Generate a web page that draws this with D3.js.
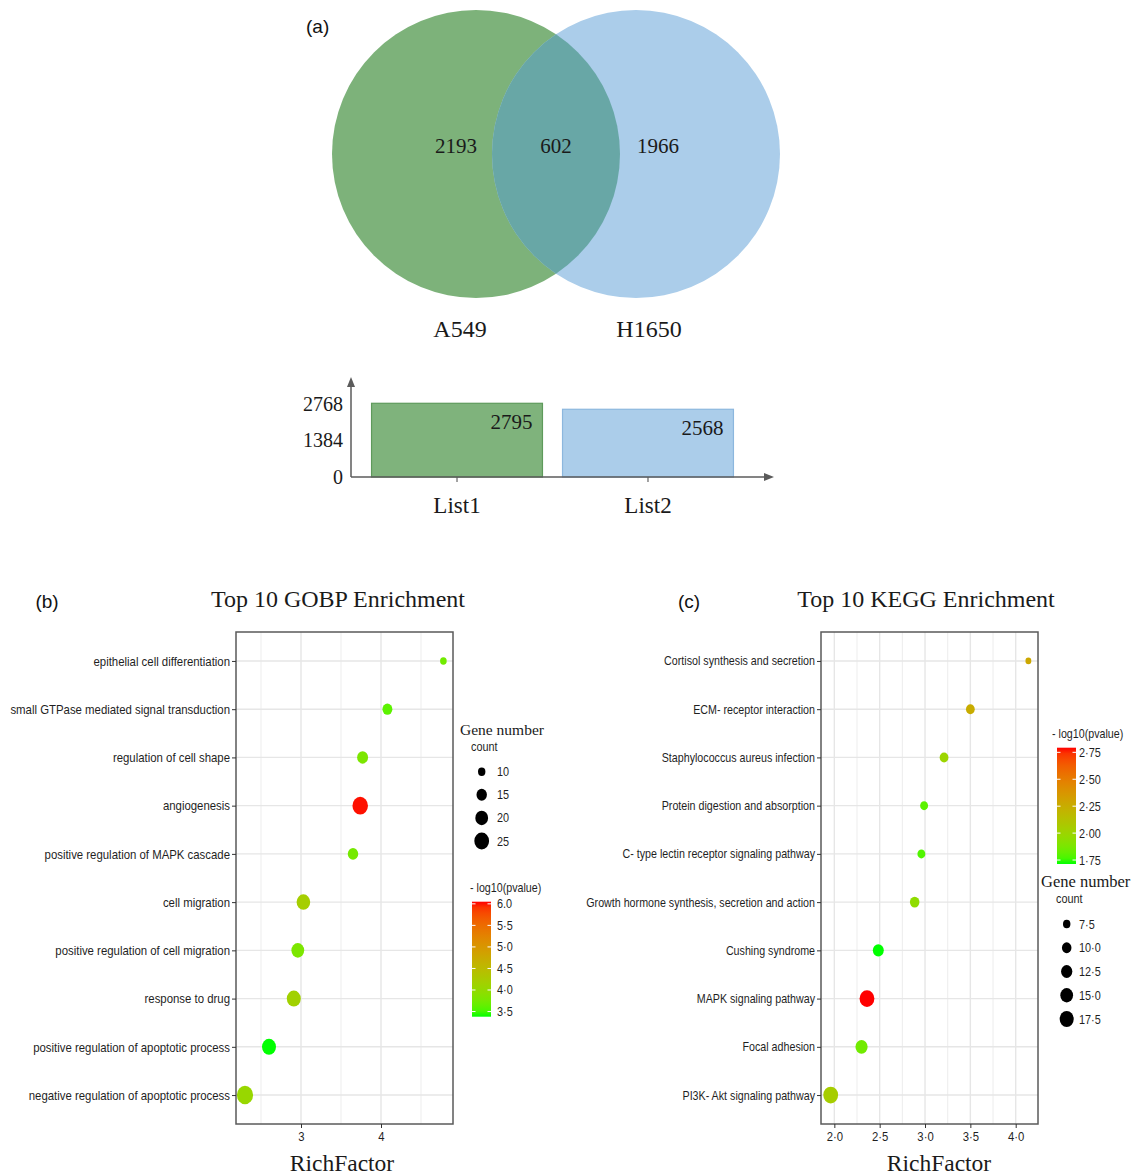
<!DOCTYPE html>
<html>
<head>
<meta charset="utf-8">
<script src="https://cdn.jsdelivr.net/npm/d3@7"></script>
<style>
  html, body { margin: 0; padding: 0; background: #fff; }
  svg { display: block; }
</style>
</head>
<body>
<svg id="fig" width="1131" height="1175"></svg>
<script>
// ---------------- data ----------------
// (a) overlap of the two cell-line gene lists
const vennSets = ["A549", "H1650"];
const vennRegionCounts = [2193, 602, 1966];   // A549 only, shared, H1650 only
const listNames = ["List1", "List2"];
const listTotals = [2795, 2568];
const listTicks = [0, 1384, 2768];

// (b) GO biological process enrichment (top to bottom)
const goTerms = [
  "epithelial cell differentiation",
  "small GTPase mediated signal transduction",
  "regulation of cell shape",
  "angiogenesis",
  "positive regulation of MAPK cascade",
  "cell migration",
  "positive regulation of cell migration",
  "response to drug",
  "positive regulation of apoptotic process",
  "negative regulation of apoptotic process"
];
const goRichFactor = [4.78, 4.08, 3.77, 3.74, 3.65, 3.03, 2.96, 2.91, 2.60, 2.30];
const goCount      = [9, 14, 16, 27, 15, 22, 20, 23, 23, 29];
const goLogP       = [3.72, 3.60, 3.80, 6.03, 3.75, 4.20, 3.80, 4.15, 3.38, 4.05];
const goXTicks = [3, 4];
const goXTickLabels = ["3", "4"];
const goXMinor = [2.5, 3.5, 4.5];
const goSizeBreaks = [10, 15, 20, 25];
const goSizeLabels = ["10", "15", "20", "25"];
const goColorBreaks = [3.5, 4.0, 4.5, 5.0, 5.5, 6.0];
const goColorLabels = ["3·5", "4·0", "4·5", "5·0", "5·5", "6.0"];

// (c) KEGG pathway enrichment (top to bottom)
const keggTerms = [
  "Cortisol synthesis and secretion",
  "ECM- receptor interaction",
  "Staphylococcus aureus infection",
  "Protein digestion and absorption",
  "C- type lectin receptor signaling pathway",
  "Growth hormone synthesis, secretion and action",
  "Cushing syndrome",
  "MAPK signaling pathway",
  "Focal adhesion",
  "PI3K- Akt signaling pathway"
];
const keggRichFactor = [4.14, 3.50, 3.21, 2.99, 2.96, 2.886, 2.485, 2.36, 2.30, 1.96];
const keggCount      = [6, 9, 9, 8, 8, 10, 12, 19, 14, 19];
const keggLogP       = [2.28, 2.25, 2.00, 1.80, 1.78, 1.95, 1.713, 2.793, 1.85, 2.05];
const keggXTicks = [2.0, 2.5, 3.0, 3.5, 4.0];
const keggXTickLabels = ["2·0", "2·5", "3·0", "3·5", "4·0"];
const keggXMinor = [2.25, 2.75, 3.25, 3.75];
const keggSizeBreaks = [7.5, 10, 12.5, 15, 17.5];
const keggSizeLabels = ["7·5", "10·0", "12·5", "15·0", "17·5"];
const keggColorBreaks = [1.75, 2.00, 2.25, 2.50, 2.75];
const keggColorLabels = ["1·75", "2·00", "2·25", "2·50", "2·75"];

// ---------------- drawing ----------------
const svg = d3.select("#fig");
const defs = svg.append("defs");
const SERIF = '"Liberation Serif","Times New Roman",serif';
const SANS = '"Liberation Sans",Arial,sans-serif';
const SQ = 0.87;        // horizontal squeeze of the enrichment-panel lettering
const ASPECT = 0.88;    // dots in the enrichment panels are slightly taller than wide
const INK = "#1f1f1f";

function squeezedText(g, x, y, str, size, anchor, fill) {
  return g.append("text")
    .attr("transform", `translate(${x},${y}) scale(${SQ},1)`)
    .attr("font-family", SANS).attr("font-size", size)
    .attr("text-anchor", anchor || "start")
    .attr("fill", fill || INK)
    .text(str);
}

// ===== (a) Venn diagram =====
svg.append("text").attr("x", 306).attr("y", 33)
  .attr("font-family", SANS).attr("font-size", 19).attr("fill", "#111").text("(a)");

const vennR = 144, vennCy = 154;
const vennX = d3.scalePoint().domain(vennSets).range([476, 636]);
const vennFill = d3.scaleOrdinal().domain(vennSets).range(["#7db27a", "#abcdea"]);

defs.append("clipPath").attr("id", "clipA")
  .append("circle").attr("cx", vennX(vennSets[0])).attr("cy", vennCy).attr("r", vennR);

const venn = svg.append("g");
venn.selectAll("circle.set").data(vennSets).join("circle")
  .attr("class", "set")
  .attr("cx", d => vennX(d)).attr("cy", vennCy).attr("r", vennR)
  .attr("fill", d => vennFill(d));
venn.append("circle")
  .attr("clip-path", "url(#clipA)")
  .attr("cx", vennX(vennSets[1])).attr("cy", vennCy).attr("r", vennR)
  .attr("fill", "#68a7a6");

const regionX = [vennX(vennSets[0]) - 20, (vennX(vennSets[0]) + vennX(vennSets[1])) / 2, vennX(vennSets[1]) + 22];
venn.selectAll("text.region").data(vennRegionCounts).join("text")
  .attr("class", "region")
  .attr("x", (d, i) => regionX[i]).attr("y", 153)
  .attr("text-anchor", "middle")
  .attr("font-family", SERIF).attr("font-size", 21).attr("fill", "#1a1a1a")
  .text(d => d);

const setLabelX = [vennX(vennSets[0]) - 16, vennX(vennSets[1]) + 13];
venn.selectAll("text.setname").data(vennSets).join("text")
  .attr("class", "setname")
  .attr("x", (d, i) => setLabelX[i]).attr("y", 337)
  .attr("text-anchor", "middle")
  .attr("font-family", SERIF).attr("font-size", 24).attr("fill", "#1a1a1a")
  .text(d => d);

// ===== list size bars =====
const barG = svg.append("g");
const bx = d3.scaleBand().domain(listNames).range([362, 743]).paddingInner(0.105).paddingOuter(0.05);
const by = d3.scaleLinear().domain([0, 2768]).range([477, 404]);
const barFill = ["#7fb37c", "#abcdea"];
const barStroke = ["#5e9a5b", "#8cb7de"];

barG.selectAll("rect").data(listTotals).join("rect")
  .attr("x", (d, i) => bx(listNames[i]))
  .attr("y", d => by(d))
  .attr("width", bx.bandwidth())
  .attr("height", d => by(0) - by(d))
  .attr("fill", (d, i) => barFill[i])
  .attr("stroke", (d, i) => barStroke[i]).attr("stroke-width", 1.2);

barG.selectAll("text.val").data(listTotals).join("text")
  .attr("class", "val")
  .attr("x", (d, i) => bx(listNames[i]) + bx.bandwidth() - 10)
  .attr("y", d => by(d) + 26)
  .attr("text-anchor", "end")
  .attr("font-family", SERIF).attr("font-size", 21).attr("fill", "#1a1a1a")
  .text(d => d);

const yAx = barG.append("g").attr("transform", "translate(351,0)")
  .call(d3.axisLeft(by).tickValues(listTicks).tickSize(0).tickPadding(8).tickFormat(d3.format("d")));
yAx.select(".domain").remove();
yAx.selectAll("text").attr("font-family", SERIF).attr("font-size", 20).attr("fill", "#1a1a1a");

const xAx = barG.append("g").attr("transform", "translate(0,477)")
  .call(d3.axisBottom(bx).tickSize(5).tickPadding(15));
xAx.select(".domain").remove();
xAx.selectAll("line").attr("stroke", "#666").attr("stroke-width", 1.2);
xAx.selectAll("text").attr("font-family", SERIF).attr("font-size", 23).attr("fill", "#1a1a1a");

// axis lines with arrowheads
const axisCol = "#5b5b5b";
barG.append("line").attr("x1", 351).attr("y1", 477).attr("x2", 351).attr("y2", 385)
  .attr("stroke", axisCol).attr("stroke-width", 1.5);
barG.append("path").attr("d", "M351,377 L347,387 L355,387 Z").attr("fill", axisCol);
barG.append("line").attr("x1", 351).attr("y1", 477).attr("x2", 765).attr("y2", 477)
  .attr("stroke", axisCol).attr("stroke-width", 1.5);
barG.append("path").attr("d", "M774,477 L764,473 L764,481 Z").attr("fill", axisCol);

// ===== enrichment dot panels =====
function dotPanel(o) {
  const g = svg.append("g");
  const x = d3.scaleLinear().domain(o.xDomain).range([o.left, o.right]);
  const y = d3.scalePoint().domain(o.terms).range([o.top, o.bottom]).padding(0.6);

  g.append("rect").attr("x", o.left).attr("y", o.top)
    .attr("width", o.right - o.left).attr("height", o.bottom - o.top).attr("fill", "#fff");

  g.append("g").selectAll("line").data(o.xMinor).join("line")
    .attr("x1", d => x(d)).attr("x2", d => x(d)).attr("y1", o.top).attr("y2", o.bottom)
    .attr("stroke", "#eeeeee").attr("stroke-width", 1.1);
  g.append("g").selectAll("line").data(o.xTicks).join("line")
    .attr("x1", d => x(d)).attr("x2", d => x(d)).attr("y1", o.top).attr("y2", o.bottom)
    .attr("stroke", "#e6e6e6").attr("stroke-width", 1.4);
  g.append("g").selectAll("line").data(o.terms).join("line")
    .attr("x1", o.left).attr("x2", o.right).attr("y1", d => y(d)).attr("y2", d => y(d))
    .attr("stroke", "#e6e6e6").attr("stroke-width", 1.4);

  const pts = o.terms.map((t, i) => ({ t, rf: o.rf[i], n: o.counts[i], p: o.logp[i] }));
  g.append("g").selectAll("ellipse").data(pts).join("ellipse")
    .attr("cx", d => x(d.rf)).attr("cy", d => y(d.t))
    .attr("rx", d => o.size(d.n) * ASPECT).attr("ry", d => o.size(d.n))
    .attr("fill", d => o.color(d.p));

  g.append("rect").attr("x", o.left).attr("y", o.top)
    .attr("width", o.right - o.left).attr("height", o.bottom - o.top)
    .attr("fill", "none").attr("stroke", "#5a5a5a").attr("stroke-width", 1.5);

  const ay = g.append("g").attr("transform", `translate(${o.left},0)`)
    .call(d3.axisLeft(y).tickSize(4).tickPadding(2));
  ay.select(".domain").remove();
  ay.selectAll("line").attr("stroke", "#333");
  ay.selectAll("text")
    .attr("font-family", SANS).attr("font-size", o.labelSize).attr("fill", INK)
    .attr("x", function () { return +d3.select(this).attr("x") / SQ; })
    .attr("transform", `scale(${SQ},1)`);

  const ax = g.append("g").attr("transform", `translate(0,${o.bottom})`)
    .call(d3.axisBottom(x).tickValues(o.xTicks).tickFormat((d, i) => o.xTickLabels[i]).tickSize(4).tickPadding(4));
  ax.select(".domain").remove();
  ax.selectAll("line").attr("stroke", "#333");
  ax.selectAll("text")
    .attr("font-family", SANS).attr("font-size", 13).attr("fill", INK)
    .attr("transform", `scale(${SQ},1)`)
    .attr("x", 0);

  g.append("text").attr("x", o.titleX).attr("y", 607).attr("text-anchor", "middle")
    .attr("font-family", SERIF).attr("font-size", 24).attr("fill", "#1a1a1a").text(o.title);
  g.append("text").attr("x", o.tagX).attr("y", 608).attr("text-anchor", "middle")
    .attr("font-family", SANS).attr("font-size", 19).attr("fill", "#111").text(o.tag);
  g.append("text").attr("x", o.xTitleX).attr("y", 1171).attr("text-anchor", "middle")
    .attr("font-family", SERIF).attr("font-size", 23.5).attr("fill", "#1a1a1a").text("RichFactor");
}

function colorBar(o) {
  const g = svg.append("g");
  const s = d3.scaleLinear().domain(o.domain).range([o.bottom, o.top]);
  const grad = defs.append("linearGradient").attr("id", o.id)
    .attr("x1", 0).attr("y1", 1).attr("x2", 0).attr("y2", 0);
  d3.range(0, 1.0001, 0.05).forEach(t => {
    grad.append("stop").attr("offset", t)
      .attr("stop-color", o.color(o.domain[0] + t * (o.domain[1] - o.domain[0])));
  });
  g.append("rect").attr("x", o.x).attr("y", o.top).attr("width", o.width)
    .attr("height", o.bottom - o.top).attr("fill", `url(#${o.id})`);
  g.selectAll("line.l").data(o.breaks).join("line").attr("class", "l")
    .attr("x1", o.x).attr("x2", o.x + 3.5).attr("y1", d => s(d)).attr("y2", d => s(d))
    .attr("stroke", "#fff").attr("stroke-width", 1);
  g.selectAll("line.r").data(o.breaks).join("line").attr("class", "r")
    .attr("x1", o.x + o.width - 3.5).attr("x2", o.x + o.width).attr("y1", d => s(d)).attr("y2", d => s(d))
    .attr("stroke", "#fff").attr("stroke-width", 1);
  o.breaks.forEach((b, i) => squeezedText(g, o.labelX, s(b) + 4.5, o.labels[i], 12.5));
  squeezedText(g, o.titleX, o.titleY, "- log10(pvalue)", 12.3);
}

function sizeLegend(o) {
  const g = svg.append("g");
  const ys = d3.scalePoint().domain(o.breaks).range([o.firstY, o.lastY]);
  g.append("text").attr("x", o.titleX).attr("y", o.titleY)
    .attr("font-family", SERIF).attr("font-size", o.titleSize).attr("fill", "#1a1a1a").text("Gene number");
  squeezedText(g, o.subX, o.titleY + 16, "count", 12.5);
  g.selectAll("ellipse").data(o.breaks).join("ellipse")
    .attr("cx", o.dotX).attr("cy", d => ys(d))
    .attr("rx", d => o.size(d) * ASPECT).attr("ry", d => o.size(d)).attr("fill", "#000");
  o.breaks.forEach((b, i) => squeezedText(g, o.labelX, ys(b) + 4.5, o.labels[i], 12.5));
}

// ---- (b) GOBP
const goColor = d3.scaleLinear().domain([3.38, 6.05]).range(["#00ff00", "#ff0000"]).interpolate(d3.interpolateLab);
const goSize = d3.scaleRadial().domain([5, 29]).range([0, 9.2]);
dotPanel({
  terms: goTerms, rf: goRichFactor, counts: goCount, logp: goLogP,
  left: 236, right: 453, top: 632, bottom: 1124,
  xDomain: [2.1875, 4.9], xTicks: goXTicks, xTickLabels: goXTickLabels, xMinor: goXMinor,
  size: goSize, color: goColor, labelSize: 13.1,
  title: "Top 10 GOBP Enrichment", titleX: 338, tag: "(b)", tagX: 47, xTitleX: 342
});
sizeLegend({
  breaks: goSizeBreaks, labels: goSizeLabels, size: goSize,
  titleX: 460, titleY: 735, titleSize: 15.5, subX: 471,
  dotX: 481.7, firstY: 771.7, lastY: 841, labelX: 497
});
colorBar({
  id: "goGrad", domain: [3.38, 6.05], color: goColor, breaks: goColorBreaks, labels: goColorLabels,
  x: 472, width: 19, top: 901.7, bottom: 1016.7, labelX: 497, titleX: 470, titleY: 892
});

// ---- (c) KEGG
const keggColor = d3.scaleLinear().domain([1.713, 2.793]).range(["#00ff00", "#ff0000"]).interpolate(d3.interpolateLab);
const keggSize = d3.scaleRadial().domain([3.6, 17.5]).range([0, 8]);
dotPanel({
  terms: keggTerms, rf: keggRichFactor, counts: keggCount, logp: keggLogP,
  left: 821, right: 1038, top: 632, bottom: 1124,
  xDomain: [1.853, 4.246], xTicks: keggXTicks, xTickLabels: keggXTickLabels, xMinor: keggXMinor,
  size: keggSize, color: keggColor, labelSize: 12.3,
  title: "Top 10 KEGG Enrichment", titleX: 926, tag: "(c)", tagX: 689, xTitleX: 939
});
colorBar({
  id: "keggGrad", domain: [1.713, 2.793], color: keggColor, breaks: keggColorBreaks, labels: keggColorLabels,
  x: 1057, width: 19, top: 747.7, bottom: 864, labelX: 1079, titleX: 1052, titleY: 738
});
sizeLegend({
  breaks: keggSizeBreaks, labels: keggSizeLabels, size: keggSize,
  titleX: 1041, titleY: 887, titleSize: 16.5, subX: 1056,
  dotX: 1066.7, firstY: 924, lastY: 1019, labelX: 1079
});
</script>
</body>
</html>
